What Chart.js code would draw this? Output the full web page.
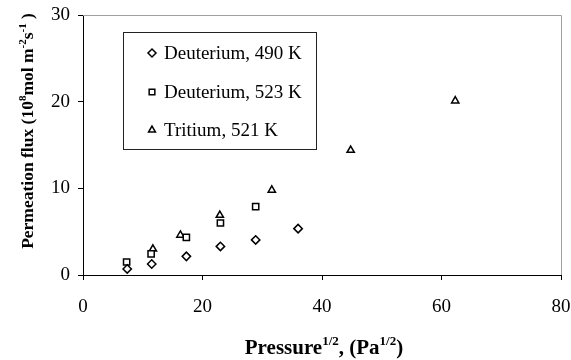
<!DOCTYPE html>
<html>
<head>
<meta charset="utf-8">
<script src="https://cdn.jsdelivr.net/npm/chart.js@4"></script>
<style>
  html, body { margin: 0; padding: 0; background: #fff; }
  #wrap { width: 571px; height: 360px; }
</style>
</head>
<body>
<div id="wrap"><canvas id="fluxChart" width="571" height="360"></canvas></div>
<script>
// values
const d490X = [7.4, 11.5, 17.3, 23.0, 28.9, 36.0];
const d490Y = [0.7, 1.27, 2.15, 3.3, 4.05, 5.35];
const d523X = [7.3, 11.4, 17.3, 23.0, 28.9];
const d523Y = [1.5, 2.45, 4.35, 6.0, 7.9];
const tritX = [11.7, 16.3, 22.9, 31.6, 44.8, 62.3];
const tritY = [3.0, 4.6, 6.9, 9.8, 14.4, 20.1];

const seriesLabels = ["Deuterium, 490 K", "Deuterium, 523 K", "Tritium, 521 K"];
const xTitleRuns = [["Pressure", 0], ["1/2", 1], [", (Pa", 0], ["1/2", 1], [")", 0]];
const yTitleRuns = [["Permeation flux (10", 0], ["8", 1], ["mol m", 0], ["-2", 1], ["s", 0], ["-1", 1], [" )", 0]];

const SERIF = '"Liberation Serif", "Times New Roman", serif';

const pts = (xs, ys) => xs.map((x, i) => ({ x: x, y: ys[i] }));

const markerBase = {
  showLine: false,
  borderColor: "#000",
  backgroundColor: "#fff",
  pointBorderWidth: 1.5,
  pointRadius: 4.2,
};

// draws text pieces, some raised as superscripts
function drawRuns(ctx, runs, size) {
  const supSize = Math.round(size * 0.62);
  let w = 0;
  runs.forEach(([t, sup]) => {
    ctx.font = "bold " + (sup ? supSize : size) + "px " + SERIF;
    w += ctx.measureText(t).width;
  });
  let x = -w / 2;
  runs.forEach(([t, sup]) => {
    ctx.font = "bold " + (sup ? supSize : size) + "px " + SERIF;
    ctx.fillText(t, x, sup ? -size * 0.42 : 0);
    x += ctx.measureText(t).width;
  });
}

function marker(ctx, style, x, y, r) {
  ctx.beginPath();
  if (style === "rectRot") {
    ctx.moveTo(x, y - r); ctx.lineTo(x + r, y); ctx.lineTo(x, y + r); ctx.lineTo(x - r, y);
  } else if (style === "rect") {
    const s = r * Math.SQRT1_2;
    ctx.rect(x - s, y - s, 2 * s, 2 * s);
  } else {
    const h = r * Math.sqrt(3) / 2;
    ctx.moveTo(x, y - r); ctx.lineTo(x + h, y + r / 2); ctx.lineTo(x - h, y + r / 2);
  }
  ctx.closePath();
  ctx.fill();
  ctx.stroke();
}

const extras = {
  id: "extras",
  afterDraw(chart) {
    const ctx = chart.ctx;
    const a = chart.chartArea;
    ctx.save();

    // light frame on top and right
    ctx.strokeStyle = "#a0a0a0";
    ctx.lineWidth = 1;
    ctx.beginPath();
    ctx.moveTo(a.left, a.top + 0.5);
    ctx.lineTo(a.right + 0.5, a.top + 0.5);
    ctx.lineTo(a.right + 0.5, a.bottom);
    ctx.stroke();

    // legend box
    ctx.strokeStyle = "#222";
    ctx.fillStyle = "#fff";
    ctx.fillRect(123, 32, 194, 118);
    ctx.strokeRect(123.5, 32.5, 193, 117);
    const rows = [53, 92, 130];
    chart.data.datasets.forEach((ds, i) => {
      ctx.strokeStyle = "#000";
      ctx.fillStyle = "#fff";
      ctx.lineWidth = 1.5;
      marker(ctx, ds.pointStyle, 152, rows[i], 4);
      ctx.fillStyle = "#000";
      ctx.font = "19px " + SERIF;
      ctx.textBaseline = "middle";
      ctx.textAlign = "left";
      ctx.fillText(ds.label, 164, rows[i] + 1);
    });

    // axis titles
    ctx.fillStyle = "#000";
    ctx.textBaseline = "alphabetic";
    ctx.textAlign = "left";
    ctx.save();
    ctx.translate((a.left + a.right) / 2 + 2, 354);
    drawRuns(ctx, xTitleRuns, 21);
    ctx.restore();
    ctx.save();
    ctx.translate(33, 131);
    ctx.rotate(-Math.PI / 2);
    drawRuns(ctx, yTitleRuns, 17.5);
    ctx.restore();

    ctx.restore();
  },
};

new Chart(document.getElementById("fluxChart"), {
  type: "scatter",
  data: {
    datasets: [
      { ...markerBase, label: seriesLabels[0], data: pts(d490X, d490Y), pointStyle: "rectRot" },
      { ...markerBase, label: seriesLabels[1], data: pts(d523X, d523Y), pointStyle: "rect", pointRadius: 4.4 },
      { ...markerBase, label: seriesLabels[2], data: pts(tritX, tritY), pointStyle: "triangle" },
    ],
  },
  options: {
    responsive: false,
    animation: false,
    devicePixelRatio: 1,
    layout: { padding: { top: 15, right: 10, left: 0, bottom: 0 } },
    plugins: {
      legend: { display: false },
      tooltip: { enabled: false },
    },
    scales: {
      x: {
        type: "linear",
        min: 0,
        max: 80,
        ticks: { stepSize: 20, color: "#000", font: { family: SERIF, size: 19 }, padding: 16 },
        grid: { drawOnChartArea: false, drawTicks: true, tickLength: 5, color: "#000" },
        border: { color: "#000", width: 1 },
        afterFit(scale) {
          scale.height = 85;
          scale.paddingLeft = 0;
          scale.paddingRight = 0;
        },
      },
      y: {
        min: 0,
        max: 30,
        ticks: { stepSize: 10, color: "#000", font: { family: SERIF, size: 19 }, padding: 8 },
        grid: { drawOnChartArea: false, drawTicks: true, tickLength: 5, color: "#000" },
        border: { color: "#000", width: 1 },
        afterFit(scale) {
          scale.width = 83;
          scale.paddingTop = 0;
          scale.paddingBottom = 0;
        },
      },
    },
  },
  plugins: [extras],
});
</script>
</body>
</html>
